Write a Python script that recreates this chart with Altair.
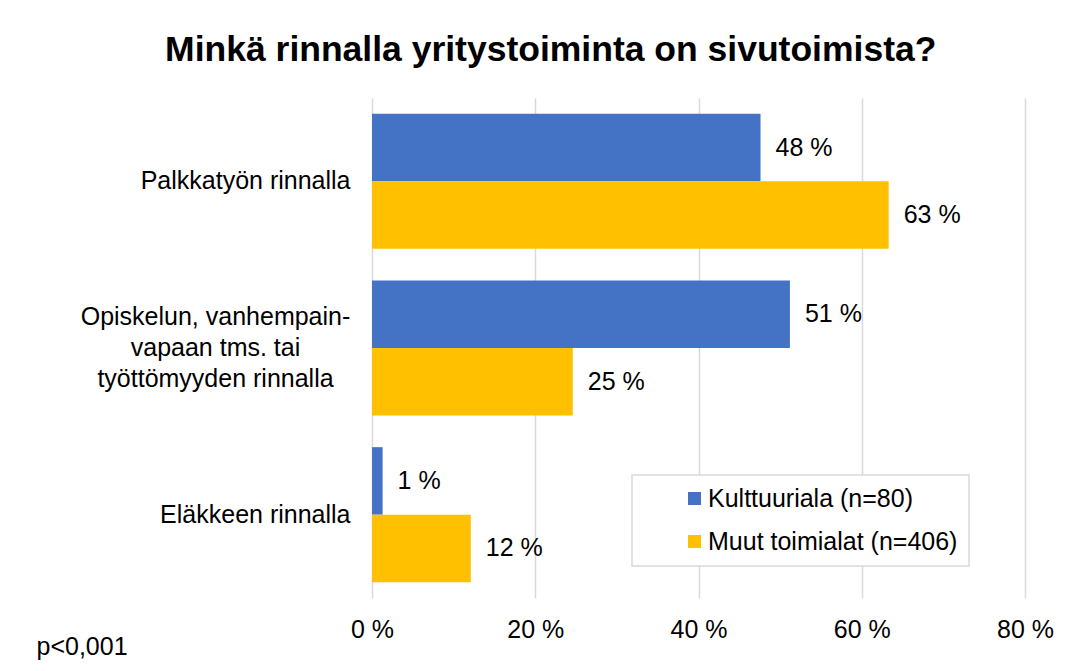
import altair as alt
import pandas as pd

categories = [
    "Palkkatyön rinnalla",
    "Opiskelun, vanhempain-\nvapaan tms. tai\ntyöttömyyden rinnalla",
    "Eläkkeen rinnalla",
]
series = ["Kulttuuriala (n=80)", "Muut toimialat (n=406)"]
kulttuuriala = [47.6, 51.2, 1.3]
muut_toimialat = [63.3, 24.6, 12.1]
colors = ["#4472C4", "#FFC000"]
x_ticks = [0, 20, 40, 60, 80]
title_text = "Minkä rinnalla yritystoiminta on sivutoimista?"
note_text = "p<0,001"

rows = []
for s, vals in zip(series, [kulttuuriala, muut_toimialat]):
    for c, v in zip(categories, vals):
        rows.append({"category": c, "series": s, "value": v})
df = pd.DataFrame(rows)

FONT = "Liberation Sans"
FS = 25
MULTI = "indexof(datum.value, '\\n') >= 0"

y_enc = alt.Y(
    "category:N",
    sort=categories,
    scale=alt.Scale(paddingInner=0.19, paddingOuter=0.095),
    axis=alt.Axis(
        title=None,
        labelExpr="split(datum.label, '\\n')",
        labelFontSize=FS,
        labelLineHeight=31,
        labelAlign={"condition": {"test": MULTI, "value": "center"}, "value": "right"},
        labelPadding={"condition": {"test": MULTI, "value": 157}, "value": 22},
        labelOffset={"condition": {"test": MULTI, "value": -31}, "value": 0},
        labelColor="black",
        labelLimit=400,
        domain=False,
        ticks=False,
        grid=False,
    ),
)

x_enc = alt.X(
    "value:Q",
    scale=alt.Scale(domain=[0, 80], nice=False),
    axis=alt.Axis(
        values=x_ticks,
        labelExpr="datum.value + ' %'",
        labelFontSize=FS,
        labelColor="black",
        labelPadding=19,
        labelFlush=False,
        grid=True,
        gridColor="#d9d9d9",
        gridWidth=1.5,
        domain=False,
        ticks=False,
        title=note_text,
        titleAnchor="start",
        titleAlign="left",
        titleX=-336,
        titleY=48,
        titleBaseline="middle",
        titleFontWeight="normal",
        titleFontSize=FS,
        titleColor="black",
    ),
)

y_off = alt.YOffset("series:N", sort=series, scale=alt.Scale(domain=series, paddingInner=0, paddingOuter=0))

base = alt.Chart(df).transform_calculate(label="round(datum.value) + ' %'")

bars = base.mark_bar().encode(
    x=x_enc,
    y=y_enc,
    yOffset=y_off,
    color=alt.Color(
        "series:N",
        scale=alt.Scale(domain=series, range=colors),
        legend=alt.Legend(
            title=None,
            orient="none",
            legendX=260,
            legendY=377,
            symbolType="square",
            symbolSize=169,
            symbolStrokeWidth=0,
            symbolOffset=39,
            labelOffset=1,
            labelFontSize=FS,
            labelColor="black",
            labelLimit=400,
            padding=11,
            rowPadding=17,
            fillColor="white",
            strokeColor="#d9d9d9",
        ),
    ),
)

labels = base.mark_text(align="left", baseline="middle", dx=15, fontSize=FS, color="black").encode(
    x="value:Q",
    y=alt.Y("category:N", sort=categories),
    yOffset=y_off,
    text="label:N",
)

chart = (
    alt.layer(bars, labels)
    .properties(
        width=653,
        height=500,
        padding={"left": 28, "top": 24, "right": 5, "bottom": 5},
        title=alt.TitleParams(
            title_text,
            fontSize=35.5,
            fontWeight="bold",
            anchor="middle",
            frame="bounds",
            offset=30,
            dx=6,
            color="black",
            font=FONT,
        ),
    )
    .configure(font=FONT)
    .configure_view(stroke=None)
    .configure_legend(strokeWidth=1.5)
)

chart.save("out.html", embed_options={"renderer": "svg", "actions": False})
